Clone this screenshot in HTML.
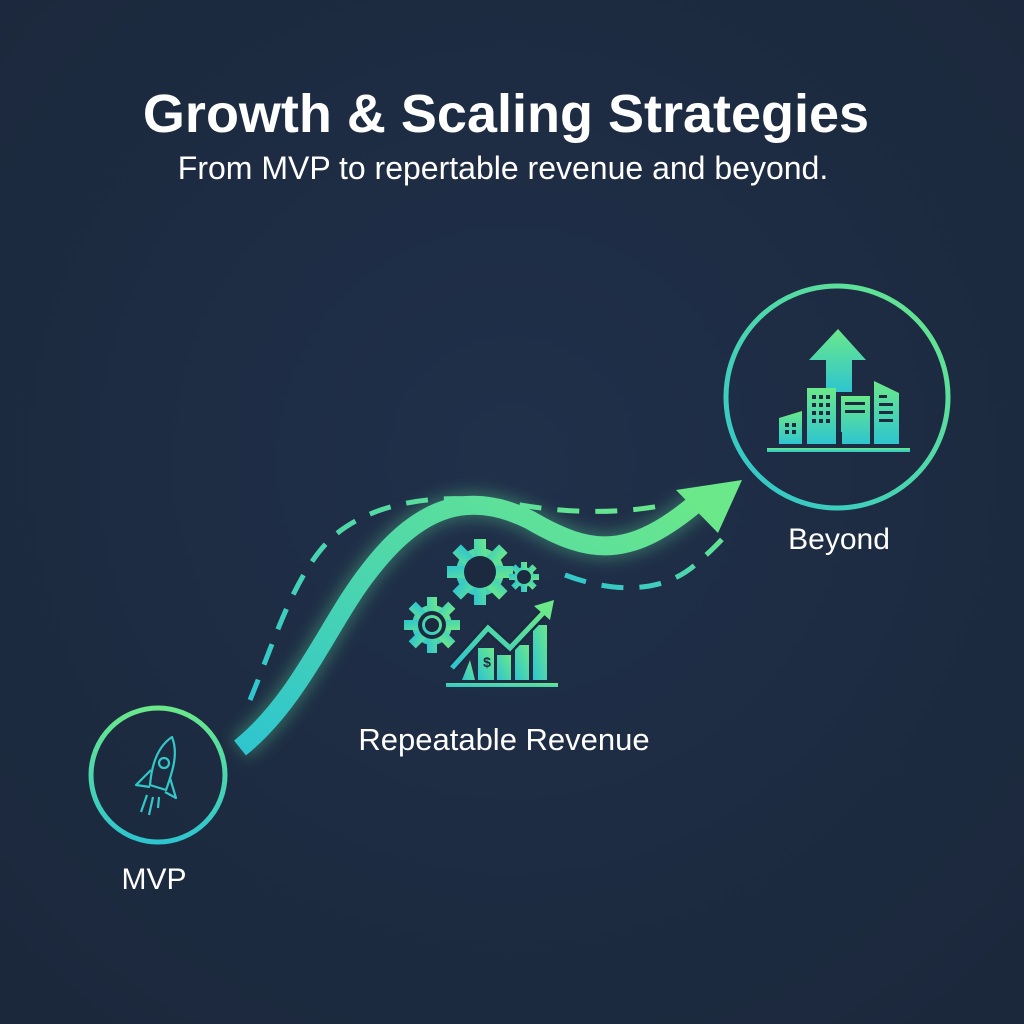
<!DOCTYPE html>
<html><head><meta charset="utf-8"><style>
html,body{margin:0;padding:0;background:#1c2a3f;}
svg{display:block}
</style></head><body>
<svg width="1024" height="1024" viewBox="0 0 1024 1024" xmlns="http://www.w3.org/2000/svg">
<defs>
<linearGradient id="g" x1="0" y1="1" x2="1" y2="0">
<stop offset="0" stop-color="#2ec5cf"/><stop offset="1" stop-color="#6be88a"/></linearGradient>
<linearGradient id="gv" x1="0" y1="1" x2="0" y2="0">
<stop offset="0" stop-color="#2ec5cf"/><stop offset="1" stop-color="#6be88a"/></linearGradient>
<radialGradient id="bg" cx="0.5" cy="0.45" r="0.7"><stop offset="0" stop-color="#20304a"/><stop offset="1" stop-color="#1b283c"/></radialGradient>
<filter id="blur"><feGaussianBlur stdDeviation="8"/></filter>
</defs>
<rect width="1024" height="1024" fill="url(#bg)"/>
<text x="506" y="132" text-anchor="middle" font-family="Liberation Sans, sans-serif" font-weight="bold" font-size="54" fill="#fff">Growth &amp; Scaling Strategies</text>
<text x="503" y="179" text-anchor="middle" font-family="Liberation Sans, sans-serif" font-size="32" fill="#fff">From MVP to repertable revenue and beyond.</text>

<path d="M250 700 C275 640 295 570 335 535 C375 502 440 490 520 505 C580 515 630 512 665 505" fill="none" stroke="url(#g)" stroke-width="5" stroke-dasharray="22 16"/>
<path d="M565 575 C610 592 660 595 695 565 C712 550 722 540 730 530" fill="none" stroke="url(#g)" stroke-width="5" stroke-dasharray="22 16"/>

<path d="M240 748 C300 700 330 620 370 570 C420 505 470 490 530 520 C590 555 630 560 700 500" fill="none" stroke="#5ce09a" stroke-width="26" opacity="0.35" filter="url(#blur)"/>
<path d="M240 748 C300 700 330 620 370 570 C420 505 470 490 530 520 C590 555 630 560 700 500" fill="none" stroke="url(#g)" stroke-width="19"/>
<polygon points="742,480 676,490 718,533" fill="#6be88a"/>

<circle cx="158" cy="775" r="67" fill="none" stroke="url(#gv)" stroke-width="5"/>
<g fill="none" stroke="#33c8c8" stroke-width="2.2" stroke-linejoin="round">
<path d="M172 737 C160 745 152 760 150 785 L166 790 C174 768 178 752 172 737 Z"/>
<circle cx="164" cy="763" r="5"/>
<path d="M151 770 L136 785 L150 787"/><path d="M170 778 L176 798 L165 792"/>
<path d="M147 795 L141 812 M153 797 L149 815 M159 797 L158 808"/>
</g>
<text x="154" y="889" text-anchor="middle" font-family="Liberation Sans, sans-serif" font-size="30" fill="#fff">MVP</text>

<g fill="url(#g)">
<g transform="translate(480,572)">
<circle r="24"/><rect x="-6" y="-33" width="12" height="66"/><rect x="-6" y="-33" width="12" height="66" transform="rotate(45)"/><rect x="-6" y="-33" width="12" height="66" transform="rotate(90)"/><rect x="-6" y="-33" width="12" height="66" transform="rotate(135)"/>
<circle r="16" fill="#1c2a3f"/></g>
<g transform="translate(524,577)"><circle r="10"/><rect x="-3" y="-15" width="6" height="30"/><rect x="-3" y="-15" width="6" height="30" transform="rotate(45)"/><rect x="-3" y="-15" width="6" height="30" transform="rotate(90)"/><rect x="-3" y="-15" width="6" height="30" transform="rotate(135)"/><circle r="7" fill="#1c2a3f"/></g>
<g transform="translate(432,625)"><circle r="20"/><rect x="-5" y="-28" width="10" height="56"/><rect x="-5" y="-28" width="10" height="56" transform="rotate(45)"/><rect x="-5" y="-28" width="10" height="56" transform="rotate(90)"/><rect x="-5" y="-28" width="10" height="56" transform="rotate(135)"/><circle r="14" fill="#1c2a3f"/><circle r="10" /><circle r="7" fill="#1c2a3f"/></g>
<path d="M462 680 L470 660 L475 680 Z"/>
<rect x="478" y="648" width="16" height="32"/>
<rect x="497" y="655" width="14" height="25"/>
<rect x="515" y="645" width="14" height="35"/>
<rect x="533" y="625" width="14" height="55"/>
<rect x="446" y="683" width="112" height="4"/>
</g>
<polyline points="452,668 488,628 510,648 548,608" fill="none" stroke="#1c2a3f" stroke-width="10"/>
<polyline points="452,668 488,628 510,648 546,610" fill="none" stroke="url(#g)" stroke-width="5"/>
<polygon points="554,600 534,606 550,620" fill="#6be88a"/>
<text x="487" y="667" text-anchor="middle" font-family="Liberation Sans, sans-serif" font-size="14" font-weight="bold" fill="#1c2a3f">$</text>
<text x="504" y="750" text-anchor="middle" font-family="Liberation Sans, sans-serif" font-size="31" fill="#fff">Repeatable Revenue</text>

<circle cx="837" cy="397" r="111" fill="none" stroke="url(#g)" stroke-width="5"/>
<g fill="url(#gv)">
<polygon points="838,329 866,360 852,360 852,392 826,392 826,360 809,360"/>
<polygon points="779,418 802,411 802,444 779,444"/>
<rect x="807" y="388" width="29" height="56"/>
<rect x="841" y="396" width="29" height="48"/>
<polygon points="874,381 899,393 899,444 874,444"/>
<rect x="767" y="448" width="143" height="4"/>
</g>
<g fill="#1c2a3f">
<rect x="785" y="423" width="4" height="4"/><rect x="792" y="423" width="4" height="4"/><rect x="785" y="430" width="4" height="4"/><rect x="792" y="430" width="4" height="4"/>
<rect x="812" y="395" width="4" height="4"/><rect x="819" y="395" width="4" height="4"/><rect x="826" y="395" width="4" height="4"/>
<rect x="812" y="403" width="4" height="4"/><rect x="819" y="403" width="4" height="4"/><rect x="826" y="403" width="4" height="4"/>
<rect x="812" y="411" width="4" height="4"/><rect x="819" y="411" width="4" height="4"/><rect x="826" y="411" width="4" height="4"/>
<rect x="812" y="419" width="4" height="4"/><rect x="819" y="419" width="4" height="4"/><rect x="826" y="419" width="4" height="4"/>
<rect x="836" y="432" width="6" height="16"/>
<rect x="845" y="402" width="20" height="3"/><rect x="845" y="410" width="20" height="3"/>
<rect x="879" y="395" width="8" height="3"/><rect x="879" y="403" width="14" height="3"/><rect x="879" y="411" width="14" height="3"/><rect x="879" y="419" width="14" height="3"/>
</g>
<text x="839" y="549" text-anchor="middle" font-family="Liberation Sans, sans-serif" font-size="30" fill="#fff">Beyond</text>
</svg>
</body></html>
